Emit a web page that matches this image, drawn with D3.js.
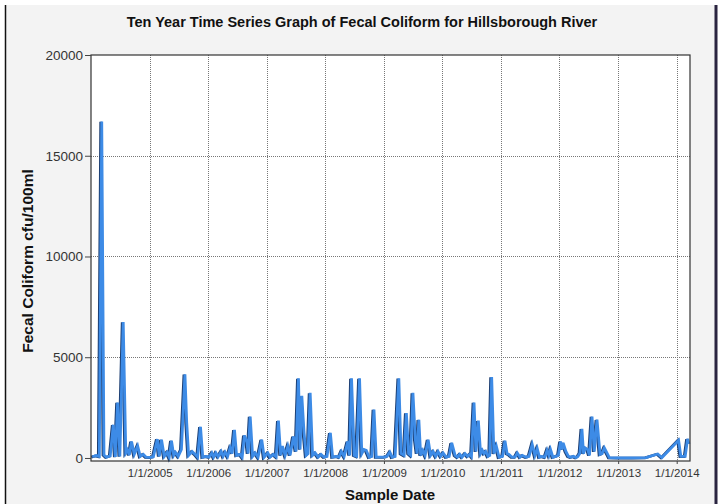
<!DOCTYPE html>
<html>
<head>
<meta charset="utf-8">
<script src="https://cdn.jsdelivr.net/npm/d3@7"></script>
<style>
  html, body { margin: 0; padding: 0; background: #ffffff; }
  svg { display: block; font-family: "Liberation Sans", Arial, sans-serif; }
</style>
</head>
<body>
<svg id="chart" width="728" height="504"></svg>
<script>
// ---- data ----
const chartTitle = 'Ten Year Time Series Graph of Fecal Coliform for Hillsborough River';
const yTitle = 'Fecal Coliform cfu/100ml';
const xTitle = 'Sample Date';

const yTicks = [0, 5000, 10000, 15000, 20000];
const xTickDates = ['2005-01-01', '2006-01-01', '2007-01-01', '2008-01-01', '2009-01-01',
                    '2010-01-01', '2011-01-01', '2012-01-01', '2013-01-01', '2014-01-01'];

const sampleDates = [
  '2004-01-09','2004-02-03','2004-02-22','2004-03-08','2004-03-22','2004-04-06','2004-04-30','2004-05-19',
  '2004-06-01','2004-06-15','2004-06-29','2004-07-20','2004-08-05','2004-08-16','2004-08-27','2004-09-10',
  '2004-09-27','2004-10-18','2004-11-03','2004-11-22','2004-12-10',
  '2005-01-05','2005-01-24','2005-02-18','2005-03-02','2005-03-16','2005-04-02','2005-04-20','2005-05-03',
  '2005-05-17','2005-05-31','2005-06-11','2005-06-28','2005-07-18','2005-08-09','2005-08-20','2005-09-01',
  '2005-09-23','2005-10-12','2005-10-27','2005-11-14','2005-11-28','2005-12-20',
  '2006-01-07','2006-01-24','2006-02-04','2006-02-18','2006-03-04','2006-03-23','2006-04-04','2006-04-17',
  '2006-05-02','2006-05-18','2006-05-30','2006-06-14','2006-06-27','2006-07-19','2006-08-01','2006-08-15',
  '2006-08-30','2006-09-07','2006-09-20','2006-10-05','2006-10-21','2006-11-08','2006-12-01','2006-12-16',
  '2007-01-08','2007-01-22','2007-02-12','2007-03-01','2007-03-15','2007-03-29','2007-04-09','2007-04-26',
  '2007-05-13','2007-05-27','2007-06-17','2007-07-03','2007-07-18','2007-07-28','2007-08-08','2007-08-22',
  '2007-09-04','2007-09-16','2007-09-29','2007-10-14','2007-10-30','2007-11-18','2007-12-06','2007-12-25',
  '2008-01-12','2008-02-02','2008-02-16','2008-03-15','2008-03-27','2008-04-11','2008-04-28','2008-05-21',
  '2008-06-01','2008-06-13','2008-06-30','2008-07-15','2008-08-02','2008-08-16','2008-08-29','2008-09-13',
  '2008-10-01','2008-10-17','2008-10-31','2008-11-14','2008-12-09',
  '2009-01-02','2009-01-21','2009-02-07','2009-02-21','2009-03-12','2009-04-04','2009-04-18','2009-05-07',
  '2009-05-21','2009-06-04','2009-06-17','2009-07-01','2009-07-16','2009-07-27','2009-08-07','2009-08-18',
  '2009-09-01','2009-09-15','2009-10-04','2009-10-19','2009-11-04','2009-11-20','2009-12-05','2009-12-21',
  '2010-01-05','2010-01-24','2010-02-12','2010-02-28','2010-03-21','2010-04-05','2010-04-19','2010-05-03',
  '2010-05-22','2010-06-07','2010-06-21','2010-07-01','2010-07-17','2010-07-29','2010-08-13','2010-08-27',
  '2010-09-07','2010-09-17','2010-09-28','2010-10-12','2010-10-23','2010-11-04','2010-11-18','2010-12-03',
  '2010-12-20',
  '2011-01-11','2011-01-26','2011-02-08','2011-02-20','2011-03-11','2011-03-30','2011-04-13','2011-04-30',
  '2011-05-14','2011-06-07','2011-06-25','2011-07-15','2011-08-01','2011-08-15','2011-08-29','2011-09-13',
  '2011-10-02','2011-10-16','2011-10-27','2011-11-06','2011-11-21','2011-12-09','2011-12-25',
  '2012-01-08','2012-01-16','2012-01-24','2012-02-10','2012-02-26','2012-03-12','2012-03-28','2012-04-13',
  '2012-04-25','2012-05-08','2012-05-20','2012-05-30','2012-06-10','2012-06-25','2012-07-06','2012-07-22',
  '2012-08-05','2012-08-22','2012-09-10','2012-09-23','2012-10-07','2012-11-07','2012-12-29',
  '2013-04-02','2013-06-24','2013-09-05','2013-10-01',
  '2014-01-13','2014-01-27','2014-02-23','2014-03-10','2014-03-19'
];

const fecalColiform = [
  60, 120, 80, 16700, 150, 40, 100, 1650,
  50, 2750, 80, 6750, 250, 400, 150, 820,
  180, 590, 80, 180, 40,
  30, 60, 940, 80, 910, 80, 280, 40,
  860, 130, 280, 80, 420, 4150, 1750, 130,
  320, 180, 40, 1550, 40, 80,
  40, 250, 40, 250, 60, 320, 80, 290,
  80, 500, 220, 1400, 130, 180, 40, 1120,
  820, 220, 2060, 80, 250, 40, 910, 40,
  250, 40, 180, 60, 1850, 130, 590, 130,
  590, 130, 1070, 320, 3950, 420, 3080, 1250,
  130, 220, 3230, 130, 250, 40, 180, 40,
  80, 1250, 40, 80, 40, 320, 80, 820,
  130, 3950, 130, 80, 3950, 220, 420, 380,
  40, 80, 2400, 40, 40,
  40, 80, 290, 40, 80, 3950, 220, 130,
  2230, 220, 130, 3230, 910, 220, 1900, 130,
  380, 130, 910, 130, 320, 80, 320, 80,
  250, 40, 80, 750, 130, 40, 180, 40,
  220, 80, 180, 80, 2750, 320, 1850, 220,
  380, 220, 320, 80, 130, 4020, 220, 590,
  40,
  80, 860, 220, 180, 40, 40, 250, 40,
  130, 40, 80, 670, 130, 470, 40, 80,
  40, 380, 130, 420, 40, 80, 130,
  820, 420, 750, 320, 80, 40, 80, 20,
  80, 250, 1450, 220, 500, 420, 130, 2060,
  320, 1900, 180, 220, 500, 20, 10,
  5, 20, 200, 20,
  880, 80, 80, 950, 700
];

// ---- layout ----
const W = 728, H = 504;
const plot = { left: 91, top: 55, right: 690, bottom: 461 };
const parse = d3.timeParse('%Y-%m-%d');
const fmt = d3.timeFormat('%-m/%-d/%Y');

const svg = d3.select('#chart');

// background panel
svg.append('rect').attr('x', 0).attr('y', 0).attr('width', W).attr('height', H).attr('fill', '#ffffff');
svg.append('rect').attr('x', 5).attr('y', 5).attr('width', 710).attr('height', H - 5).attr('fill', '#f3f3f3');
svg.append('line').attr('x1', 5.5).attr('x2', 5.5).attr('y1', 5).attr('y2', H)
  .attr('stroke', '#111').attr('stroke-width', 1.5);
svg.append('line').attr('x1', 716).attr('x2', 716).attr('y1', 5).attr('y2', H)
  .attr('stroke', '#2a2440').attr('stroke-width', 3);

const x = d3.scaleTime()
  .domain([parse('2004-01-01'), parse('2014-03-25')])
  .range([plot.left, plot.right]);

const y = d3.scaleLinear()
  .domain([-150, 20000])
  .range([plot.bottom, plot.top]);

// plot area
svg.append('rect')
  .attr('x', plot.left).attr('y', plot.top)
  .attr('width', plot.right - plot.left).attr('height', plot.bottom - plot.top)
  .attr('fill', '#ffffff');

// grid
const grid = svg.append('g').attr('class', 'grid');
grid.selectAll('line.vgrid')
  .data(xTickDates.map(parse))
  .enter()
  .append('line')
  .attr('class', 'vgrid')
  .attr('x1', (d) => { return Math.round(x(d)) + 0.5; })
  .attr('x2', (d) => { return Math.round(x(d)) + 0.5; })
  .attr('y1', plot.top)
  .attr('y2', plot.bottom)
  .attr('stroke', '#777')
  .attr('stroke-width', 1)
  .attr('stroke-dasharray', '1,1');

grid.selectAll('line.hgrid')
  .data(yTicks.filter((d) => { return d > 0 && d < 20000; }))
  .enter()
  .append('line')
  .attr('class', 'hgrid')
  .attr('x1', plot.left)
  .attr('x2', plot.right)
  .attr('y1', (d) => { return Math.round(y(d)) + 0.5; })
  .attr('y2', (d) => { return Math.round(y(d)) + 0.5; })
  .attr('stroke', '#777')
  .attr('stroke-width', 1)
  .attr('stroke-dasharray', '1,1');

// series
const data = sampleDates.map((d, i) => { return { date: parse(d), value: fecalColiform[i] }; });

const line = d3.line()
  .x((d) => { return x(d.date); })
  .y((d) => { return y(d.value); });

const series = svg.append('g').attr('class', 'series');
series.append('path')
  .datum(data)
  .attr('d', line)
  .attr('transform', 'translate(-1,0.3)')
  .attr('fill', 'none')
  .attr('stroke', '#1d3f73')
  .attr('stroke-width', 2.8)
  .attr('stroke-linejoin', 'miter')
  .attr('stroke-miterlimit', 4);
series.append('path')
  .datum(data)
  .attr('d', line)
  .attr('fill', 'none')
  .attr('stroke', '#3d8be6')
  .attr('stroke-width', 2.8)
  .attr('stroke-linejoin', 'miter')
  .attr('stroke-miterlimit', 4);

// frame
svg.append('rect')
  .attr('x', plot.left).attr('y', plot.top)
  .attr('width', plot.right - plot.left).attr('height', plot.bottom - plot.top)
  .attr('fill', 'none')
  .attr('stroke', '#333')
  .attr('stroke-width', 1.2);

// axes
const yAxis = svg.append('g')
  .attr('transform', 'translate(' + plot.left + ',0)')
  .call(d3.axisLeft(y).tickValues(yTicks).tickSize(6).tickPadding(2).tickFormat(d3.format('d')));
yAxis.select('.domain').remove();
yAxis.selectAll('line').attr('stroke', '#444');
yAxis.selectAll('text')
  .attr('font-size', 13.5)
  .attr('fill', '#333')
  .attr('font-family', '"Liberation Sans", Arial, sans-serif');

const xAxis = svg.append('g')
  .attr('transform', 'translate(0,' + plot.bottom + ')')
  .call(d3.axisBottom(x).tickValues(xTickDates.map(parse)).tickSize(3).tickPadding(5).tickFormat(fmt));
xAxis.select('.domain').remove();
xAxis.selectAll('line').attr('stroke', '#444');
xAxis.selectAll('text')
  .attr('font-size', 11.5)
  .attr('fill', '#333')
  .attr('font-family', '"Liberation Sans", Arial, sans-serif');

// titles
svg.append('text')
  .attr('x', 362).attr('y', 27)
  .attr('text-anchor', 'middle')
  .attr('font-size', 14.5)
  .attr('font-weight', 'bold')
  .attr('fill', '#111')
  .text(chartTitle);

svg.append('text')
  .attr('transform', 'translate(33,261) rotate(-90)')
  .attr('text-anchor', 'middle')
  .attr('font-size', 15.5)
  .attr('font-weight', 'bold')
  .attr('fill', '#111')
  .text(yTitle);

svg.append('text')
  .attr('x', 390).attr('y', 500)
  .attr('text-anchor', 'middle')
  .attr('font-size', 15)
  .attr('font-weight', 'bold')
  .attr('fill', '#111')
  .text(xTitle);
</script>
</body>
</html>
